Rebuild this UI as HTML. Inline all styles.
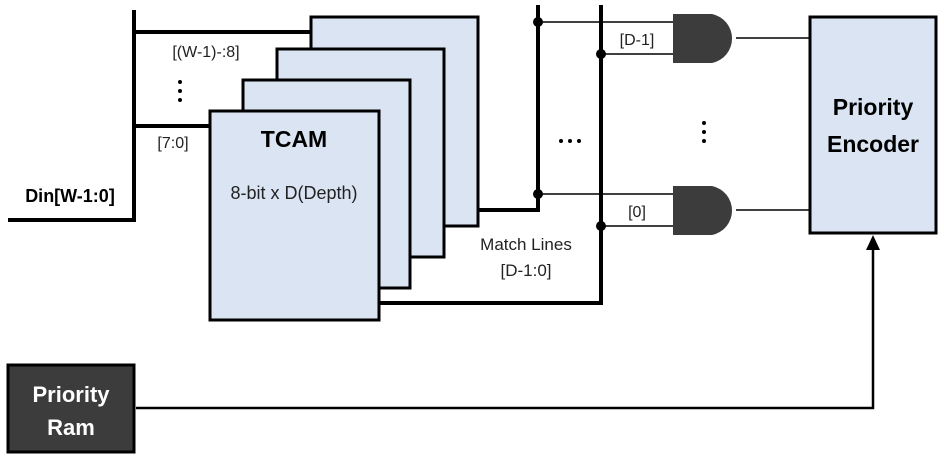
<!DOCTYPE html>
<html><head><meta charset="utf-8"><style>
html,body{margin:0;padding:0;background:#fff;}
svg{display:block;font-family:"Liberation Sans",sans-serif;}
</style></head><body>
<svg width="944" height="464" viewBox="0 0 944 464" xmlns="http://www.w3.org/2000/svg">
<g stroke="#000" stroke-width="4" fill="none">
<polyline points="8,220 134,220 134,10"/>
<line x1="134" y1="32" x2="312" y2="32"/>
<line x1="134" y1="126" x2="211" y2="126"/>
</g>
<g fill="#dae4f3" stroke="#000" stroke-width="3">
<rect x="311" y="17" width="167" height="209"/>
<rect x="277" y="49" width="167" height="208"/>
<rect x="243" y="80" width="167" height="208"/>
<rect x="210" y="111" width="169" height="209"/>
</g>
<g stroke="#000" stroke-width="4" fill="none">
<polyline points="478,210 538,210 538,5"/>
<polyline points="379,303 601,303 601,5"/>
</g>
<g stroke="#000" stroke-width="1.5">
<line x1="538" y1="22" x2="674" y2="22"/>
<line x1="601" y1="54" x2="674" y2="54"/>
<line x1="538" y1="194" x2="674" y2="194"/>
<line x1="601" y1="226" x2="674" y2="226"/>
<line x1="736" y1="38" x2="810" y2="38"/>
<line x1="736" y1="210" x2="810" y2="210"/>
</g>
<g fill="#000">
<circle cx="538" cy="22" r="5"/><circle cx="601" cy="54" r="5"/>
<circle cx="538" cy="194" r="5"/><circle cx="601" cy="226" r="5"/>
</g>
<g fill="#3c3c3c">
<path d="M673,14 H712 A25,25 0 0 1 712,63 H673 Z"/>
<path d="M673,186 H712 A25,25 0 0 1 712,235 H673 Z"/>
</g>
<rect x="810" y="17" width="126" height="216" fill="#dae4f3" stroke="#000" stroke-width="3"/>
<polyline points="136,408 873,408 873,248" stroke="#000" stroke-width="2.5" fill="none"/>
<polygon points="873,235 866,250 880,250" fill="#000"/>
<rect x="8" y="365" width="126" height="87" fill="#3c3c3c" stroke="#000" stroke-width="3"/>
<g font-size="16" fill="#222">
<text x="206" y="57" text-anchor="middle">[(W-1)-:8]</text>
<text x="173" y="148" text-anchor="middle">[7:0]</text>
<text x="294" y="199" text-anchor="middle" font-size="18">8-bit x D(Depth)</text>
<text x="526" y="250" text-anchor="middle" font-size="17">Match Lines</text>
<text x="526" y="276" text-anchor="middle" font-size="17">[D-1:0]</text>
<text x="637" y="45" text-anchor="middle">[D-1]</text>
<text x="637" y="217" text-anchor="middle">[0]</text>
</g>
<g font-weight="bold" fill="#000">
<text x="294" y="147" text-anchor="middle" font-size="23">TCAM</text>
<text x="70" y="202" text-anchor="middle" font-size="18">Din[W-1:0]</text>
<text x="873" y="115" text-anchor="middle" font-size="23">Priority</text>
<text x="873" y="152" text-anchor="middle" font-size="23">Encoder</text>
<text x="71" y="402" text-anchor="middle" font-size="22" fill="#fff">Priority</text>
<text x="71" y="435" text-anchor="middle" font-size="22" fill="#fff">Ram</text>
</g>
<g fill="#000">
<circle cx="180" cy="82" r="2"/><circle cx="180" cy="91" r="2"/><circle cx="180" cy="100" r="2"/>
<circle cx="704" cy="123" r="2"/><circle cx="704" cy="132" r="2"/><circle cx="704" cy="141" r="2"/>
<circle cx="561" cy="141" r="2"/><circle cx="570" cy="141" r="2"/><circle cx="579" cy="141" r="2"/>
</g>
</svg>
</body></html>
